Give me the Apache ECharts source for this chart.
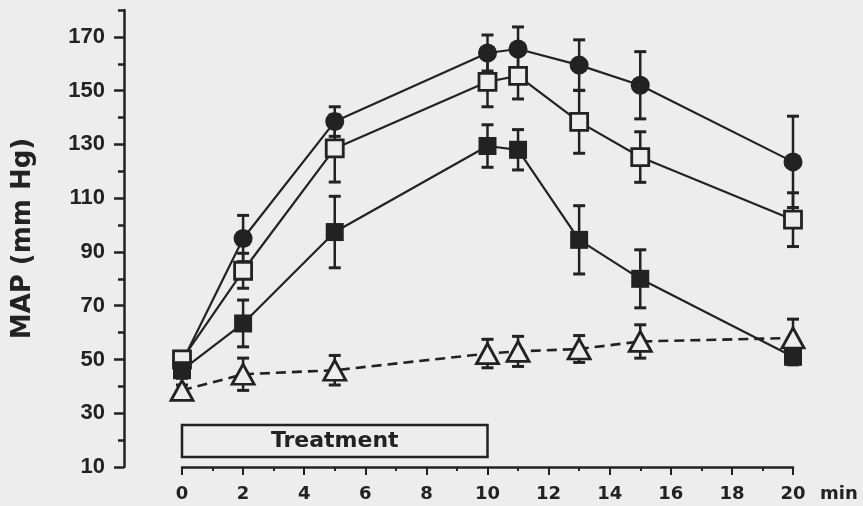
<!DOCTYPE html>
<html>
<head>
<meta charset="utf-8">
<title>MAP over time</title>
<script src="https://cdn.jsdelivr.net/npm/echarts@6/dist/echarts.min.js"></script>
<style>
    html, body { margin: 0; padding: 0; background: #ededed; }
    #chart { width: 863px; height: 506px; }
</style>
</head>
<body>
<div id="chart"></div>
<script>
(function (window) {
    "use strict";

    // time points (min)
    var minutes = [0, 2, 5, 10, 11, 13, 15, 20];

    // MAP (mm Hg), mean and error per group
    var filledCircle = [49, 95, 138.5, 164, 165.5, 159.5, 152, 123.5];
    var filledCircleErr = [3, 8.6, 5.5, 6.7, 8.2, 9.4, 12.5, 17];
    var openSquare = [50, 83, 128.5, 153.3, 155.5, 138.4, 125.3, 102];
    var openSquareErr = [3, 6.5, 12.5, 9.3, 8.6, 11.7, 9.4, 10];
    var filledSquare = [46, 63.4, 97.4, 129.4, 128, 94.5, 80, 51];
    var filledSquareErr = [3, 8.7, 13.3, 7.9, 7.5, 12.7, 10.8, 3];
    var openTriangle = [38.5, 44.5, 46, 52.2, 53, 53.9, 56.7, 58];
    var openTriangleErr = [2, 6, 5.5, 5.3, 5.6, 5, 6.2, 7];

    // treatment period (min)
    var treatment = [0, 10];

    // labelled y ticks
    var yTickLabels = [10, 30, 50, 70, 90, 110, 130, 150, 170];

    var ink = '#222';
    var paper = '#ededed';

    var pairs = function (ys) {
        return minutes.map(function (t, i) {
            return [t, ys[i]];
        });
    };

    var errorBars = function (mean, err) {
        return {
            type: 'custom',
            z: 2,
            silent: true,
            encode: { x: 0, y: [1, 2] },
            data: minutes.map(function (t, i) {
                return [t, mean[i] - err[i], mean[i] + err[i]];
            }),
            renderItem: function (params, api) {
                var lo = api.coord([api.value(0), api.value(1)]);
                var hi = api.coord([api.value(0), api.value(2)]);
                var cap = 6;
                return {
                    type: 'group',
                    children: [
                        { type: 'line', shape: { x1: lo[0], y1: lo[1], x2: hi[0], y2: hi[1] },
                          style: { stroke: ink, lineWidth: 2.5 } },
                        { type: 'line', shape: { x1: hi[0] - cap, y1: hi[1], x2: hi[0] + cap, y2: hi[1] },
                          style: { stroke: ink, lineWidth: 3 } },
                        { type: 'line', shape: { x1: lo[0] - cap, y1: lo[1], x2: lo[0] + cap, y2: lo[1] },
                          style: { stroke: ink, lineWidth: 3 } }
                    ]
                };
            }
        };
    };

    var lineSeries = function (name, ys, symbol, size, filled, dashed) {
        return {
            name: name,
            type: 'line',
            z: 3,
            data: pairs(ys),
            symbol: symbol,
            symbolSize: size,
            showAllSymbol: true,
            lineStyle: { color: ink, width: dashed ? 2.6 : 2.2, type: dashed ? [10, 6] : 'solid' },
            itemStyle: {
                color: filled ? ink : paper,
                borderColor: ink,
                borderWidth: filled ? 0 : 2.8
            }
        };
    };

    var squareSeries = lineSeries('Filled square', filledSquare, 'rect', 18, true, false);
    squareSeries.markArea = {
        silent: true,
        itemStyle: { color: paper, borderColor: ink, borderWidth: 2.5 },
        label: {
            show: true,
            position: 'inside',
            color: ink,
            fontFamily: 'DejaVu Sans',
            fontWeight: 'bold',
            fontSize: 22
        },
        data: [[
            { name: 'Treatment', xAxis: treatment[0], yAxis: 25.6 },
            { xAxis: treatment[1], yAxis: 13.7 }
        ]]
    };

    var option = {
        animation: false,
        backgroundColor: paper,
        grid: { left: 182, right: 70, top: 10, bottom: 39, outerBoundsMode: 'none' },
        xAxis: {
            type: 'value',
            min: 0,
            max: 20,
            interval: 2,
            name: 'min',
            nameLocation: 'end',
            nameGap: 27,
            nameTextStyle: {
                color: ink, fontFamily: 'DejaVu Sans', fontWeight: 'bold', fontSize: 18,
                verticalAlign: 'top', padding: [18, 0, 0, 0]
            },
            axisLine: { onZero: false, lineStyle: { color: ink, width: 2.5 } },
            axisTick: { length: 8, lineStyle: { color: ink, width: 2 } },
            minorTick: { show: true, splitNumber: 2, length: 4, lineStyle: { color: ink, width: 2 } },
            splitLine: { show: false },
            minorSplitLine: { show: false },
            axisLabel: {
                color: ink, fontFamily: 'DejaVu Sans', fontWeight: 'bold', fontSize: 18, margin: 18
            }
        },
        yAxis: [{
            type: 'value',
            min: 10,
            max: 180,
            interval: 10,
            offset: 58,
            position: 'left',
            name: 'MAP (mm Hg)',
            nameLocation: 'middle',
            nameRotate: 90,
            nameGap: 88,
            nameTextStyle: {
                color: ink, fontFamily: 'DejaVu Sans', fontWeight: 'bold', fontSize: 26
            },
            axisLine: { show: true, onZero: false, lineStyle: { color: ink, width: 2.5 } },
            axisTick: { length: 6, lineStyle: { color: ink, width: 2.5 } },
            axisLabel: { show: false },
            splitLine: { show: false }
        }, {
            type: 'value',
            min: 10,
            max: 180,
            interval: 10,
            offset: 58,
            position: 'left',
            axisLine: { show: false, onZero: false },
            axisTick: { show: true, customValues: yTickLabels, length: 10, lineStyle: { color: ink, width: 2.5 } },
            axisLabel: {
                customValues: yTickLabels,
                color: ink, fontFamily: 'Liberation Sans', fontWeight: 'bold', fontSize: 22, margin: 19
            },
            splitLine: { show: false }
        }],
        series: [
            errorBars(filledCircle, filledCircleErr),
            errorBars(openSquare, openSquareErr),
            errorBars(filledSquare, filledSquareErr),
            errorBars(openTriangle, openTriangleErr),
            lineSeries('Filled circle', filledCircle, 'circle', 19, true, false),
            lineSeries('Open square', openSquare, 'rect', 17, false, false),
            squareSeries,
            lineSeries('Open triangle', openTriangle, 'triangle', [22, 20], false, true)
        ]
    };

    var chart = echarts.init(document.getElementById('chart'));
    chart.setOption(option);
})(window);
</script>
</body>
</html>
